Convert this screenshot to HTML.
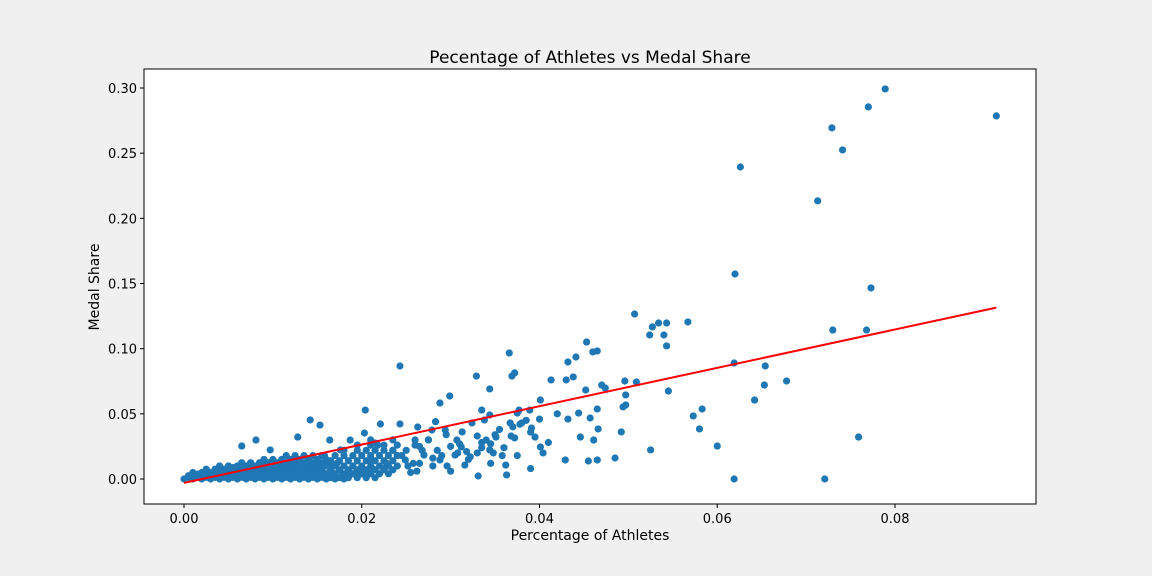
<!DOCTYPE html>
<html><head><meta charset="utf-8"><style>
html,body{margin:0;padding:0;background:#f0f0f0;overflow:hidden;width:1152px;height:576px;}
svg{display:block;}
svg text{font-family:"DejaVu Sans","Liberation Sans",sans-serif;fill:#000;}
</style></head><body>
<svg id="chart" width="1152" height="576" xmlns="http://www.w3.org/2000/svg">
<rect x="0" y="0" width="1152" height="576" fill="#f0f0f0"/>
<rect x="144" y="69" width="892" height="435" fill="#fff"/>
<text x="590" y="63" font-size="17" text-anchor="middle">Pecentage of Athletes vs Medal Share</text>
<text x="590" y="540" font-size="14" text-anchor="middle">Percentage of Athletes</text>
<text x="99" y="287" font-size="14" text-anchor="middle" transform="rotate(-90 99 287)">Medal Share</text>
<g id="marks"></g><g id="axes"></g>
</svg>
<script>
const xTicks=[0,0.02,0.04,0.06,0.08];
const xTickLabels=["0.00","0.02","0.04","0.06","0.08"];
const yTicks=[0,0.05,0.1,0.15,0.2,0.25,0.3];
const yTickLabels=["0.00","0.05","0.10","0.15","0.20","0.25","0.30"];
const outX=[0.0789,0.0914,0.0770,0.0729,0.0741,0.0626,0.0713,0.0620,0.0773,0.0730,0.0768,0.0619,0.0654,0.0653,0.0678,0.0642,0.0600,0.0619,0.0721,0.0759,0.0567,0.0507,0.0534,0.0543,0.0527,0.0524,0.0540,0.0543,0.0545,0.0573,0.0583,0.0580,0.0525,0.0485,0.0453,0.0465,0.0460,0.0441,0.0432,0.0366,0.0243,0.0413,0.0430,0.0438,0.0369,0.0372,0.0329,0.0344,0.0299,0.0288,0.0496,0.0509,0.0470,0.0474,0.0497,0.0494,0.0497,0.0465,0.0452,0.0457,0.0432,0.0444,0.0492,0.0466,0.0461,0.0446,0.0455,0.0465,0.0429,0.0404,0.0395,0.0401,0.0362,0.0363,0.0331,0.0401,0.0389,0.0375,0.0377,0.0344,0.0338,0.0335,0.0324,0.0367,0.0380,0.0391,0.0351,0.0340,0.0372,0.0344,0.0312,0.0307,0.0313,0.0294,0.0279,0.0263,0.0316,0.0305,0.0288,0.0270,0.0249,0.0215,0.0243,0.0221,0.0204,0.0203,0.0187,0.0176,0.0142,0.0153,0.0164,0.0128,0.0081,0.0065,0.0097,0.0210,0.0225,0.0235,0.0258,0.0275,0.0290,0.0300,0.0318,0.0330,0.0345,0.0355,0.0368,0.0378,0.0390,0.0400,0.0410,0.0420,0.0283,0.0262,0.0230,0.0195,0.0185,0.0172,0.0165,0.0158,0.0178,0.0190,0.0200,0.0212,0.0228,0.0240,0.0252,0.0268,0.0280,0.0296,0.0308,0.0322,0.0335,0.0348,0.0358,0.0218,0.0205];
const outY=[0.2993,0.2786,0.2855,0.2694,0.2525,0.2394,0.2134,0.1573,0.1466,0.1143,0.1143,0.0890,0.0867,0.0721,0.0752,0.0606,0.0253,0.0000,0.0000,0.0322,0.1205,0.1266,0.1197,0.1197,0.1167,0.1105,0.1105,0.1021,0.0675,0.0484,0.0537,0.0384,0.0223,0.0161,0.1051,0.0982,0.0975,0.0936,0.0898,0.0967,0.0867,0.0760,0.0760,0.0783,0.0790,0.0814,0.0790,0.0691,0.0637,0.0583,0.0752,0.0744,0.0721,0.0698,0.0645,0.0553,0.0568,0.0537,0.0683,0.0468,0.0460,0.0506,0.0361,0.0384,0.0299,0.0322,0.0138,0.0146,0.0146,0.0200,0.0322,0.0246,0.0107,0.0031,0.0023,0.0606,0.0529,0.0506,0.0529,0.0491,0.0453,0.0529,0.0430,0.0430,0.0430,0.0391,0.0322,0.0299,0.0315,0.0223,0.0246,0.0299,0.0361,0.0376,0.0376,0.0399,0.0107,0.0184,0.0146,0.0184,0.0146,0.0276,0.0422,0.0422,0.0529,0.0353,0.0299,0.0223,0.0453,0.0414,0.0299,0.0322,0.0299,0.0253,0.0223,0.0150,0.0080,0.0220,0.0120,0.0300,0.0180,0.0250,0.0210,0.0330,0.0270,0.0380,0.0330,0.0420,0.0360,0.0460,0.0280,0.0500,0.0440,0.0060,0.0100,0.0040,0.0060,0.0120,0.0050,0.0180,0.0030,0.0100,0.0050,0.0080,0.0120,0.0180,0.0100,0.0220,0.0160,0.0100,0.0200,0.0170,0.0240,0.0200,0.0180,0.0260,0.0020,0.0020];
const clusterX=[0,0.001,0.002,0.003,0.004,0.005,0.006,0.007,0.008,0.009,0.010,0.011,0.012,0.013,0.014,0.015,0.016,0.017,0.018,
0.0005,0.0015,0.0025,0.0035,0.0045,0.0055,0.0065,0.0075,0.0085,0.0095,0.0105,0.0115,0.0125,0.0135,0.0145,0.0155,
0.001,0.002,0.003,0.004,0.005,0.006,0.007,0.008,0.009,0.010,0.011,0.012,0.013,0.014,0.015,
0.0025,0.0035,0.0045,0.0055,0.0065,0.0075,0.0085,0.0095,0.0105,0.0115,0.0125,0.0135,0.0145,
0.004,0.005,0.006,0.007,0.008,0.009,0.010,0.011,0.012,0.013,0.014,0.015,
0.0065,0.0075,0.0085,0.0095,0.0105,0.0115,0.0125,0.0135,0.0145,0.0155,
0.009,0.010,0.011,0.012,0.013,0.014,0.015,0.016,
0.0115,0.0125,0.0135,0.0145,0.0155];
const clusterY=[0,0,0,0,0,0,0,0,0,0,0,0,0,0,0,0,0,0,0,
0.0025,0.0025,0.0025,0.0025,0.0025,0.0025,0.0025,0.0025,0.0025,0.0025,0.0025,0.0025,0.0025,0.0025,0.0025,0.0025,
0.005,0.005,0.005,0.005,0.005,0.005,0.005,0.005,0.005,0.005,0.005,0.005,0.005,0.005,0.005,
0.0075,0.0075,0.0075,0.0075,0.0075,0.0075,0.0075,0.0075,0.0075,0.0075,0.0075,0.0075,0.0075,
0.010,0.010,0.010,0.010,0.010,0.010,0.010,0.010,0.010,0.010,0.010,0.010,
0.0125,0.0125,0.0125,0.0125,0.0125,0.0125,0.0125,0.0125,0.0125,0.0125,
0.015,0.015,0.015,0.015,0.015,0.015,0.015,0.015,
0.018,0.018,0.018,0.018,0.018];
const wedgeX=[0.0005,0.0015,0.0025,0.0035,0.0045,0.0055,0.0065,0.0075,0.0085,0.0095,0.0105,0.0115,0.0125,0.0135,0.0145,0.0155,0.0165,
0.0015,0.0025,0.0035,0.0045,0.0055,0.0065,0.0075,0.0085,0.0095,0.0105,0.0115,0.0125,0.0135,0.0145,0.0155,
0.0035,0.0045,0.0055,0.0065,0.0075,0.0085,0.0095,0.0105,0.0115,0.0125,0.0135,0.0145,0.0155,
0.0055,0.0065,0.0075,0.0085,0.0095,0.0105,0.0115,0.0125,0.0135,0.0145,0.0155,
0.0085,0.0095,0.0105,0.0115,0.0125,0.0135,0.0145,0.0155,0.0165,
0.010,0.011,0.012,0.013,0.014,0.015,0.016];
const wedgeY=[0.00125,0.00125,0.00125,0.00125,0.00125,0.00125,0.00125,0.00125,0.00125,0.00125,0.00125,0.00125,0.00125,0.00125,0.00125,0.00125,0.00125,
0.00375,0.00375,0.00375,0.00375,0.00375,0.00375,0.00375,0.00375,0.00375,0.00375,0.00375,0.00375,0.00375,0.00375,0.00375,
0.00625,0.00625,0.00625,0.00625,0.00625,0.00625,0.00625,0.00625,0.00625,0.00625,0.00625,0.00625,0.00625,
0.00875,0.00875,0.00875,0.00875,0.00875,0.00875,0.00875,0.00875,0.00875,0.00875,0.00875,
0.01125,0.01125,0.01125,0.01125,0.01125,0.01125,0.01125,0.01125,0.01125,
0.0135,0.0135,0.0135,0.0135,0.0135,0.0135,0.0135];
const bandX=[0.0165,0.0175,0.0185,0.0195,0.0205,0.0215,
0.016,0.017,0.018,0.019,0.020,0.021,0.022,0.023,
0.0155,0.0165,0.0175,0.0185,0.0195,0.0205,0.0215,0.0225,0.0235,
0.016,0.017,0.018,0.019,0.020,0.021,0.022,0.023,0.024,
0.0165,0.0175,0.0185,0.0195,0.0205,0.0215,0.0225,0.0235,
0.017,0.018,0.019,0.020,0.021,0.022,0.023,0.024,
0.018,0.0195,0.0205,0.0215,0.0225,0.0235,0.025,
0.0195,0.021,0.0225,0.024,0.026,
0.021,0.0235,0.026,
0.0265,0.0285,0.030,0.032,0.0335,0.0345,0.036,0.0375,0.039,0.0275,0.0295,0.031,0.033,0.035,0.037,0.0385,0.0265,0.0255,0.0245,0.028];
const bandY=[0.001,0.001,0.001,0.001,0.001,0.001,
0.004,0.004,0.004,0.004,0.004,0.004,0.004,0.004,
0.007,0.007,0.007,0.007,0.007,0.007,0.007,0.007,0.007,
0.010,0.010,0.010,0.010,0.010,0.010,0.010,0.010,0.010,
0.014,0.014,0.014,0.014,0.014,0.014,0.014,0.014,
0.018,0.018,0.018,0.018,0.018,0.018,0.018,0.018,
0.022,0.022,0.022,0.022,0.022,0.022,0.022,
0.026,0.026,0.026,0.026,0.026,
0.030,0.030,0.030,
0.012,0.022,0.006,0.015,0.028,0.012,0.024,0.018,0.008,0.030,0.034,0.027,0.020,0.034,0.040,0.045,0.025,0.005,0.018,0.010];
const fitX=[0,0.0914];
const fitY=[-0.0030,0.1315];

const NS="http://www.w3.org/2000/svg";
const X0=184,XS=8887.5,Y0=479,YS=1303.3;
function sx(v){return X0+v*XS;}
function sy(v){return Y0-v*YS;}
const marks=document.getElementById('marks');
const axes=document.getElementById('axes');
function mk(tag,attrs,parent){const e=document.createElementNS(NS,tag);for(const k in attrs)e.setAttribute(k,attrs[k]);parent.appendChild(e);return e;}
const allX=clusterX.concat(wedgeX,bandX,outX),allY=clusterY.concat(wedgeY,bandY,outY);
for(let i=0;i<allX.length;i++){
  const c=mk('circle',{cx:sx(allX[i]),cy:sy(allY[i]),r:3.6,fill:'#1f77b4'},marks);
  
  
}
const ln=mk('line',{x1:sx(fitX[0]),y1:sy(fitY[0]),x2:sx(fitX[1]),y2:sy(fitY[1]),stroke:'#ff0000','stroke-width':2},marks);


const fr=mk('rect',{x:144,y:69,width:892,height:435,fill:'none',stroke:'#000','stroke-width':1},axes);


xTicks.forEach((t,i)=>{
  const x=sx(t);
  const tk=mk('line',{x1:x,y1:504,x2:x,y2:508,stroke:'#000'},axes);
  
  
  const tx=mk('text',{x:x,y:523,'font-size':13,'text-anchor':'middle'},axes);
  tx.textContent=xTickLabels[i];
  
  
});
yTicks.forEach((t,i)=>{
  const y=sy(t);
  const tk=mk('line',{x1:140,y1:y,x2:144,y2:y,stroke:'#000'},axes);
  
  
  const tx=mk('text',{x:137,y:y+5,'font-size':13,'text-anchor':'end'},axes);
  tx.textContent=yTickLabels[i];
  
  
});
</script>
</body></html>
